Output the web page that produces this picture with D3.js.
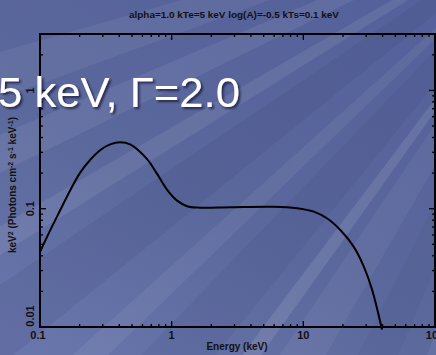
<!DOCTYPE html>
<html>
<head>
<meta charset="utf-8">
<script src="https://cdn.jsdelivr.net/npm/d3@7"></script>
<style>
  html, body { margin: 0; padding: 0; background: #5a6799; }
  svg { display: block; }
  text { font-family: "Liberation Sans", Arial, sans-serif; }
</style>
</head>
<body>
<div id="chart"></div>
<script>
// model spectrum (E in keV, E^2 F(E))
const energy = [0.1, 0.119, 0.142, 0.169, 0.202, 0.240, 0.286, 0.341, 0.406, 0.484, 0.648, 0.771, 0.919,
  1.10, 1.31, 1.65, 2.79, 5.95, 8.95, 12.0, 15.1, 19.1, 24.1, 28.8, 33.3, 39.6];
const flux = [0.0433, 0.065, 0.0965, 0.142, 0.202, 0.258, 0.312, 0.350, 0.365, 0.350, 0.264, 0.199, 0.146,
  0.117, 0.105, 0.102, 0.103, 0.104, 0.101, 0.0944, 0.083, 0.0661, 0.0478, 0.0324, 0.0206, 0.0095];

const xTickLabels = ['0.1', '1', '10', '100'];
const yTickLabels = ['0.01', '0.1', '1'];

const titleText = 'alpha=1.0 kTe=5 keV log(A)=-0.5 kTs=0.1 keV';
const xLabel = 'Energy (keV)';
const overlayText = '5 keV, \u0393=2.0';

const width = 436, height = 355;
const margin = {top: 34, right: 1, bottom: 28, left: 40};

const svg = d3.select('#chart')
    .append('svg')
    .attr('width', width)
    .attr('height', height);

// background: slide-like gradient with light rays
const defs = svg.append('defs');
const grad = defs.append('linearGradient')
    .attr('id', 'bg')
    .attr('x1', '80%').attr('y1', '0%')
    .attr('x2', '10%').attr('y2', '100%');
grad.append('stop').attr('offset', '0%').attr('stop-color', '#55619a');
grad.append('stop').attr('offset', '55%').attr('stop-color', '#5b689c');
grad.append('stop').attr('offset', '100%').attr('stop-color', '#6976ab');

svg.append('rect')
    .attr('width', width)
    .attr('height', height)
    .attr('fill', 'url(#bg)');

const rayOrigin = [600, -120];
const rays = [
  [196, 200, '#ffffff', 0.06], [203, 206, '#ffffff', 0.07], [210, 212, '#ffffff', 0.08],
  [214, 219, '#2f3a6a', 0.12], [222, 224, '#ffffff', 0.06], [226, 231, '#2f3a6a', 0.10],
  [233, 234.5, '#ffffff', 0.10], [236, 240, '#ffffff', 0.05], [243, 247, '#2f3a6a', 0.08],
  [250, 252, '#ffffff', 0.06]
];
const rayG = svg.append('g');
rays.forEach(r => {
  const a0 = r[0] * Math.PI / 180, a1 = r[1] * Math.PI / 180, L = 1400;
  const pts = [rayOrigin,
    [rayOrigin[0] + L * Math.cos(a0), rayOrigin[1] - L * Math.sin(a0)],
    [rayOrigin[0] + L * Math.cos(a1), rayOrigin[1] - L * Math.sin(a1)]];
  rayG.append('path')
      .attr('d', d3.line()(pts) + 'Z')
      .attr('fill', r[2])
      .attr('opacity', r[3]);
});

const x = d3.scaleLog()
    .domain([0.1, 100])
    .range([margin.left, width - margin.right]);
const y = d3.scaleLog()
    .domain([0.01, 3])
    .range([height - margin.bottom, margin.top]);

const x0 = x.range()[0], x1 = x.range()[1];
const y0 = y.range()[0], y1 = y.range()[1];

// ticks (inside, on all four sides)
const xMinor = [], yMinor = [];
[0.1, 1, 10].forEach(d => { for (let k = 2; k <= 9; k++) xMinor.push(d * k); });
[0.01, 0.1].forEach(d => { for (let k = 2; k <= 9; k++) yMinor.push(d * k); });
yMinor.push(2, 3);
const xMajor = xTickLabels.map(Number);
const yMajor = yTickLabels.map(Number);

const tickG = svg.append('g').attr('stroke', '#000').attr('stroke-width', 1.3);
function xTicks(vals, len) {
  vals.forEach(v => {
    const px = x(v);
    tickG.append('line').attr('x1', px).attr('x2', px).attr('y1', y0).attr('y2', y0 - len);
    tickG.append('line').attr('x1', px).attr('x2', px).attr('y1', y1).attr('y2', y1 + len);
  });
}
function yTicks(vals, len) {
  vals.forEach(v => {
    const py = y(v);
    tickG.append('line').attr('x1', x0).attr('x2', x0 + len).attr('y1', py).attr('y2', py);
    tickG.append('line').attr('x1', x1).attr('x2', x1 - len).attr('y1', py).attr('y2', py);
  });
}
xTicks(xMinor, 3);
xTicks(xMajor, 6);
yTicks(yMinor, 3);
yTicks(yMajor, 6);

// frame
svg.append('rect')
    .attr('x', x0).attr('y', y1)
    .attr('width', x1 - x0).attr('height', y0 - y1)
    .attr('fill', 'none')
    .attr('stroke', '#000')
    .attr('stroke-width', 2);

// model curve
const line = d3.line()
    .x(d => x(d[0]))
    .y(d => y(d[1]))
    .curve(d3.curveCatmullRom.alpha(0.5));

svg.append('path')
    .datum(d3.zip(energy, flux))
    .attr('d', line)
    .attr('fill', 'none')
    .attr('stroke', '#000')
    .attr('stroke-width', 2);

// tick labels
const labelStyle = sel => sel
    .attr('fill', '#111')
    .style('font-size', '11px')
    .style('font-weight', 'bold')
    .attr('text-anchor', 'middle');

xTickLabels.forEach(t => {
  svg.append('text')
      .call(labelStyle)
      .attr('x', x(+t) - (t === '0.1' ? 2 : 0))
      .attr('y', 339)
      .text(t);
});
yTickLabels.forEach(t => {
  const py = t === '0.01' ? y(+t) - 11 : y(+t);
  svg.append('text')
      .call(labelStyle)
      .attr('transform', `translate(34,${py}) rotate(-90)`)
      .text(t);
});

// axis titles
svg.append('text')
    .attr('x', 237).attr('y', 350)
    .attr('text-anchor', 'middle')
    .attr('fill', '#111')
    .style('font-size', '10px')
    .style('font-weight', 'bold')
    .text(xLabel);

const yl = svg.append('text')
    .attr('transform', 'translate(16,185) rotate(-90)')
    .attr('text-anchor', 'middle')
    .attr('fill', '#111')
    .style('font-size', '10px')
    .style('font-weight', 'bold');
yl.append('tspan').text('keV');
yl.append('tspan').attr('dy', -3).style('font-size', '7px').text('2');
yl.append('tspan').attr('dy', 3).text(' (Photons cm');
yl.append('tspan').attr('dy', -3).style('font-size', '7px').text('-2');
yl.append('tspan').attr('dy', 3).text(' s');
yl.append('tspan').attr('dy', -3).style('font-size', '7px').text('-1');
yl.append('tspan').attr('dy', 3).text(' keV');
yl.append('tspan').attr('dy', -3).style('font-size', '7px').text('-1');
yl.append('tspan').attr('dy', 3).text(')');

svg.append('text')
    .attr('x', 234).attr('y', 18)
    .attr('text-anchor', 'middle')
    .attr('fill', '#111')
    .style('font-size', '9.5px')
    .style('font-weight', 'bold')
    .attr('textLength', 210)
    .attr('lengthAdjust', 'spacingAndGlyphs')
    .text(titleText);

// big overlay caption (white with drop shadow)
const shadow = defs.append('filter').attr('id', 'shadow')
    .attr('x', '-10%').attr('y', '-20%').attr('width', '120%').attr('height', '150%');
shadow.append('feDropShadow')
    .attr('dx', 2).attr('dy', 2)
    .attr('stdDeviation', 1.2)
    .attr('flood-color', '#1a1f3a')
    .attr('flood-opacity', 0.8);

svg.append('text')
    .attr('x', -2).attr('y', 107)
    .attr('fill', '#ffffff')
    .attr('filter', 'url(#shadow)')
    .style('font-size', '42px')
    .attr('textLength', 242)
    .attr('lengthAdjust', 'spacingAndGlyphs')
    .text(overlayText);
</script>
</body>
</html>
